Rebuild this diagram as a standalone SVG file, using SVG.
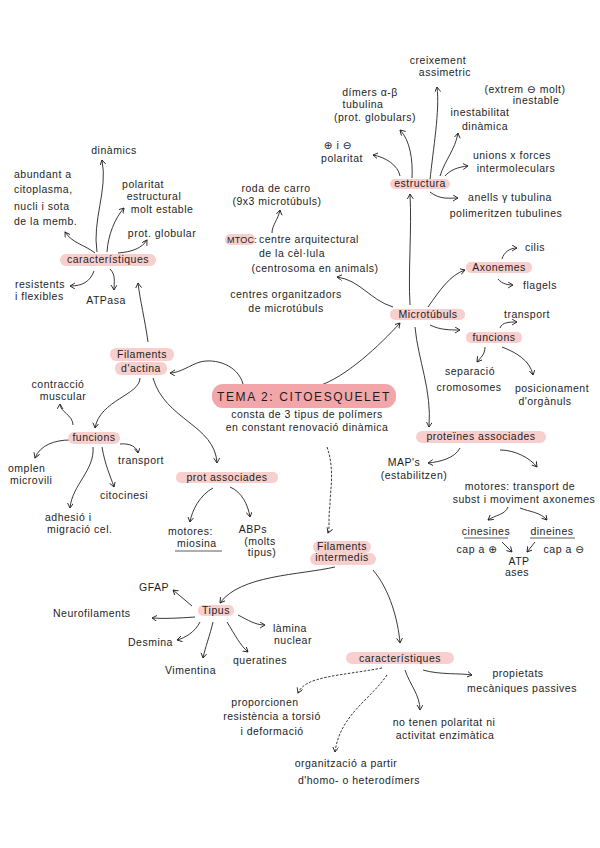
<svg xmlns="http://www.w3.org/2000/svg" width="600" height="848" viewBox="0 0 600 848">
<defs>
<marker id="ah" markerWidth="8" markerHeight="8" refX="5" refY="3" orient="auto" markerUnits="userSpaceOnUse">
<path d="M0,0 L5,3 L0,6" fill="none" stroke="#222" stroke-width="0.9"/>
</marker>
<style>
text{font-family:"Liberation Sans","DejaVu Sans",sans-serif;font-size:10.5px;fill:#1e1e1e;letter-spacing:0.5px}
.m{text-anchor:middle}
.h{fill:#f8cfcd}
.ht{fill:#f3a6a9}
.c path{fill:none;stroke:#222;stroke-width:0.9;marker-end:url(#ah)}
.c path.d{stroke-dasharray:2.5 1.5}
.u{stroke:#333;stroke-width:0.8}
.title{font-size:12px;letter-spacing:1.6px}
.s{font-size:9px;letter-spacing:0.2px}
</style>
</defs>
<rect width="600" height="848" fill="#fff"/>

<g id="connectors" class="c">
<path d="M97,252 C92,220 108,190 102,160"/>
<path d="M95,253 C85,245 72,243 65,232"/>
<path d="M107,252 C108,235 115,218 124,208"/>
<path d="M118,253 C132,252 142,248 147,240"/>
<path d="M94,271 C90,282 82,286 70,286"/>
<path d="M110,269 C116,275 114,282 114,290"/>
<path d="M148,342 C145,320 140,300 138,283"/>
<path d="M243,384 C238,365 215,358 200,362 C190,365 180,373 170,373"/>
<path d="M140,378 C140,395 100,400 95,428"/>
<path d="M73,425 C73,415 60,412 60,404"/>
<path d="M70,440 C55,440 40,445 35,458"/>
<path d="M120,444 C130,443 137,447 138,453"/>
<path d="M102,447 C105,465 110,475 114,487"/>
<path d="M93,447 C95,470 72,485 70,508"/>
<path d="M153,378 C165,420 215,425 217,463"/>
<path d="M213,488 C200,495 192,510 190,522"/>
<path d="M230,487 C242,492 248,505 250,517"/>
<path class="d" d="M327,447 C335,470 330,490 330,505 C328,520 330,528 328,533"/>
<path d="M318,386 C345,378 380,345 400,323"/>
<path d="M410,305 C408,270 412,230 410,194"/>
<path d="M393,307 C370,300 360,280 337,277"/>
<path d="M272,233 C272,225 278,220 280,210"/>
<path d="M428,307 C440,290 450,275 465,270"/>
<path d="M502,259 C504,252 510,248 517,248"/>
<path d="M498,279 C502,284 508,285 513,285"/>
<path d="M430,325 C440,330 450,330 460,330"/>
<path d="M500,328 C502,322 510,322 517,322"/>
<path d="M485,347 C485,355 480,358 477,362"/>
<path d="M502,347 C515,352 530,360 533,375"/>
<path d="M415,327 C418,360 432,390 429,427"/>
<path d="M430,180 C433,150 440,110 437,87"/>
<path d="M412,178 C413,160 410,140 400,130"/>
<path d="M400,176 C398,165 385,157 373,155"/>
<path d="M440,176 C445,160 455,150 458,133"/>
<path d="M445,176 C450,170 458,167 468,166"/>
<path d="M430,192 C440,200 450,198 458,198"/>
<path d="M460,448 C455,458 440,462 428,463"/>
<path d="M500,450 C515,450 530,458 537,467"/>
<path d="M508,507 C505,515 495,515 488,520"/>
<path d="M520,508 C530,512 540,512 547,520"/>
<path d="M502,542 L512,552"/>
<path d="M535,542 L527,552"/>
<path d="M335,567 C300,575 240,575 220,603"/>
<path d="M192,606 L173,590"/>
<path d="M195,617 C180,618 165,619 152,618"/>
<path d="M200,622 C195,632 185,638 177,640"/>
<path d="M213,622 C210,635 205,648 203,658"/>
<path d="M227,622 C235,635 240,645 248,652"/>
<path d="M238,615 C248,620 255,625 265,625"/>
<path d="M373,570 C390,590 398,620 400,643"/>
<path d="M423,670 C440,675 460,673 472,675"/>
<path class="d" d="M382,668 C340,676 305,676 298,693"/>
<path d="M405,670 C410,685 420,695 420,710"/>
<path class="d" d="M387,675 C370,700 340,715 335,752"/>
</g>

<g id="title">
<rect class="ht" x="212" y="384" width="184" height="24" rx="11"/>
<text class="m title" x="304" y="401">TEMA 2: CITOESQUELET</text>
<text class="m" x="307" y="418">consta de 3 tipus de polímers</text>
<text class="m" x="307" y="431">en constant renovació dinàmica</text>
</g>

<g id="filaments-actina">
<rect class="h" x="110" y="348" width="64" height="13" rx="6"/>
<rect class="h" x="115" y="362" width="52" height="13" rx="6"/>
<text class="m" x="142" y="358">Filaments</text>
<text class="m" x="141" y="372">d'actina</text>
</g>
<g id="caracteristiques-actina">
<rect class="h" x="60" y="254" width="96" height="12" rx="6"/>
<text class="m" x="108" y="263">característiques</text>
</g>
<g id="dinamics"><text class="m" x="114" y="154">dinàmics</text></g>
<g id="abundant">
<text x="14" y="178">abundant a</text>
<text x="14" y="193">citoplasma,</text>
<text x="14" y="210">nucli i sota</text>
<text x="14" y="225">de la memb.</text>
</g>
<g id="polaritat-estructural">
<text class="m" x="143" y="188">polaritat</text>
<text class="m" x="154" y="200">estructural</text>
<text class="m" x="162" y="213">molt estable</text>
</g>
<g id="prot-globular"><text class="m" x="162" y="237">prot. globular</text></g>
<g id="resistents">
<text x="15" y="288">resistents</text>
<text x="15" y="300">i flexibles</text>
</g>
<g id="atpasa"><text class="m" x="106" y="304">ATPasa</text></g>

<g id="funcions-actina">
<rect class="h" x="68" y="432" width="52" height="12" rx="6"/>
<text class="m" x="94" y="441">funcions</text>
</g>
<g id="contraccio">
<text class="m" x="58" y="388">contracció</text>
<text class="m" x="63" y="400">muscular</text>
</g>
<g id="omplen">
<text x="8" y="472">omplen</text>
<text x="10" y="484">microvili</text>
</g>
<g id="transport-actina"><text x="118" y="464">transport</text></g>
<g id="citocinesi"><text x="100" y="499">citocinesi</text></g>
<g id="adhesio">
<text x="45" y="521">adhesió i</text>
<text x="47" y="533">migració cel.</text>
</g>

<g id="prot-associades-actina">
<rect class="h" x="176" y="472" width="102" height="11" rx="5"/>
<text class="m" x="227" y="481">prot associades</text>
</g>
<g id="motores-miosina">
<text x="168" y="535">motores:</text>
<text x="177" y="547">miosina</text>
<line class="u" x1="175" y1="551" x2="222" y2="551"/>
</g>
<g id="abps">
<text class="m" x="253" y="533">ABPs</text>
<text class="m" x="260" y="545">(molts</text>
<text class="m" x="262" y="556">tipus)</text>
</g>

<g id="filaments-intermedis">
<rect class="h" x="313" y="541" width="58" height="12" rx="6"/>
<rect class="h" x="310" y="553" width="66" height="12" rx="6"/>
<text class="m" x="342" y="550">Filaments</text>
<text class="m" x="342" y="561">intermedis</text>
</g>

<g id="microtubuls">
<rect class="h" x="390" y="309" width="75" height="11" rx="5"/>
<text class="m" x="428" y="318">Microtúbuls</text>
</g>
<g id="roda">
<text class="m" x="276" y="192">roda de carro</text>
<text class="m" x="277" y="205">(9x3 microtúbuls)</text>
</g>
<g id="mtoc">
<rect class="h" x="225" y="234" width="30" height="11" rx="5"/>
<text class="s" x="227" y="243">MTOC:</text>
<text x="259" y="243">centre arquitectural</text>
<text class="m" x="292" y="257">de la cèl·lula</text>
<text class="m" x="315" y="272">(centrosoma en animals)</text>
</g>
<g id="centres">
<text class="m" x="286" y="298">centres organitzadors</text>
<text class="m" x="286" y="312">de microtúbuls</text>
</g>
<g id="axonemes">
<rect class="h" x="466" y="262" width="66" height="11" rx="5"/>
<text class="m" x="499" y="271">Axonemes</text>
</g>
<g id="cilis"><text class="m" x="535" y="251">cilis</text></g>
<g id="flagels"><text class="m" x="540" y="289">flagels</text></g>
<g id="funcions-mt">
<rect class="h" x="466" y="332" width="56" height="11" rx="5"/>
<text class="m" x="494" y="341">funcions</text>
</g>
<g id="transport-mt"><text class="m" x="527" y="318">transport</text></g>
<g id="separacio">
<text class="m" x="470" y="375">separació</text>
<text class="m" x="469" y="391">cromosomes</text>
</g>
<g id="posicionament">
<text class="m" x="552" y="392">posicionament</text>
<text class="m" x="545" y="405">d'orgànuls</text>
</g>

<g id="estructura">
<rect class="h" x="390" y="179" width="60" height="10" rx="5"/>
<text class="m" x="420" y="187">estructura</text>
</g>
<g id="creixement">
<text class="m" x="438" y="64">creixement</text>
<text class="m" x="445" y="76">assimetric</text>
</g>
<g id="extrem">
<text class="m" x="525" y="93">(extrem ⊖ molt)</text>
<text class="m" x="536" y="104">inestable</text>
</g>
<g id="dimers">
<text class="m" x="370" y="96">dímers α-β</text>
<text class="m" x="363" y="108">tubulina</text>
<text class="m" x="375" y="121">(prot. globulars)</text>
</g>
<g id="inestabilitat">
<text class="m" x="480" y="116">inestabilitat</text>
<text class="m" x="485" y="130">dinàmica</text>
</g>
<g id="polaritat-mt">
<text class="m" x="338" y="149">⊕ i ⊖</text>
<text class="m" x="342" y="162">polaritat</text>
</g>
<g id="unions">
<text class="m" x="512" y="159">unions x forces</text>
<text class="m" x="516" y="172">intermoleculars</text>
</g>
<g id="anells">
<text class="m" x="510" y="201">anells γ tubulina</text>
<text class="m" x="506" y="217">polimeritzen tubulines</text>
</g>

<g id="proteines-associades">
<rect class="h" x="416" y="431" width="130" height="12" rx="6"/>
<text class="m" x="481" y="440">proteïnes associades</text>
</g>
<g id="maps">
<text class="m" x="404" y="466">MAP's</text>
<text class="m" x="414" y="479">(estabilitzen)</text>
</g>
<g id="motores-mt">
<text class="m" x="520" y="490">motores: transport de</text>
<text class="m" x="524" y="503">subst i moviment axonemes</text>
</g>
<g id="cinesines">
<text class="m" x="486" y="535">cinesines</text>
<line class="u" x1="464" y1="538" x2="508" y2="538"/>
<text class="m" x="477" y="553">cap a ⊕</text>
</g>
<g id="dineines">
<text class="m" x="552" y="535">dineines</text>
<line class="u" x1="530" y1="538" x2="575" y2="538"/>
<text class="m" x="564" y="553">cap a ⊖</text>
</g>
<g id="atpases">
<text class="m" x="519" y="565">ATP</text>
<text class="m" x="517" y="576">ases</text>
</g>

<g id="tipus">
<rect class="h" x="198" y="605" width="36" height="11" rx="5"/>
<text class="m" x="216" y="614">Tipus</text>
</g>
<g id="gfap"><text class="m" x="154" y="591">GFAP</text></g>
<g id="neurofilaments"><text x="53" y="617">Neurofilaments</text></g>
<g id="desmina"><text x="128" y="646">Desmina</text></g>
<g id="vimentina"><text x="165" y="674">Vimentina</text></g>
<g id="queratines"><text x="233" y="664">queratines</text></g>
<g id="lamina">
<text class="m" x="290" y="632">làmina</text>
<text class="m" x="293" y="644">nuclear</text>
</g>

<g id="caracteristiques-fi">
<rect class="h" x="346" y="652" width="108" height="12" rx="6"/>
<text class="m" x="400" y="662">característiques</text>
</g>
<g id="propietats">
<text class="m" x="518" y="677">propietats</text>
<text class="m" x="522" y="692">mecàniques passives</text>
</g>
<g id="proporcionen">
<text class="m" x="265" y="706">proporcionen</text>
<text class="m" x="272" y="720">resistència a torsió</text>
<text class="m" x="272" y="735">i deformació</text>
</g>
<g id="no-tenen">
<text class="m" x="444" y="726">no tenen polaritat ni</text>
<text class="m" x="445" y="739">activitat enzimàtica</text>
</g>
<g id="organitzacio">
<text class="m" x="346" y="767">organització a partir</text>
<text class="m" x="359" y="784">d'homo- o heterodímers</text>
</g>
</svg>
